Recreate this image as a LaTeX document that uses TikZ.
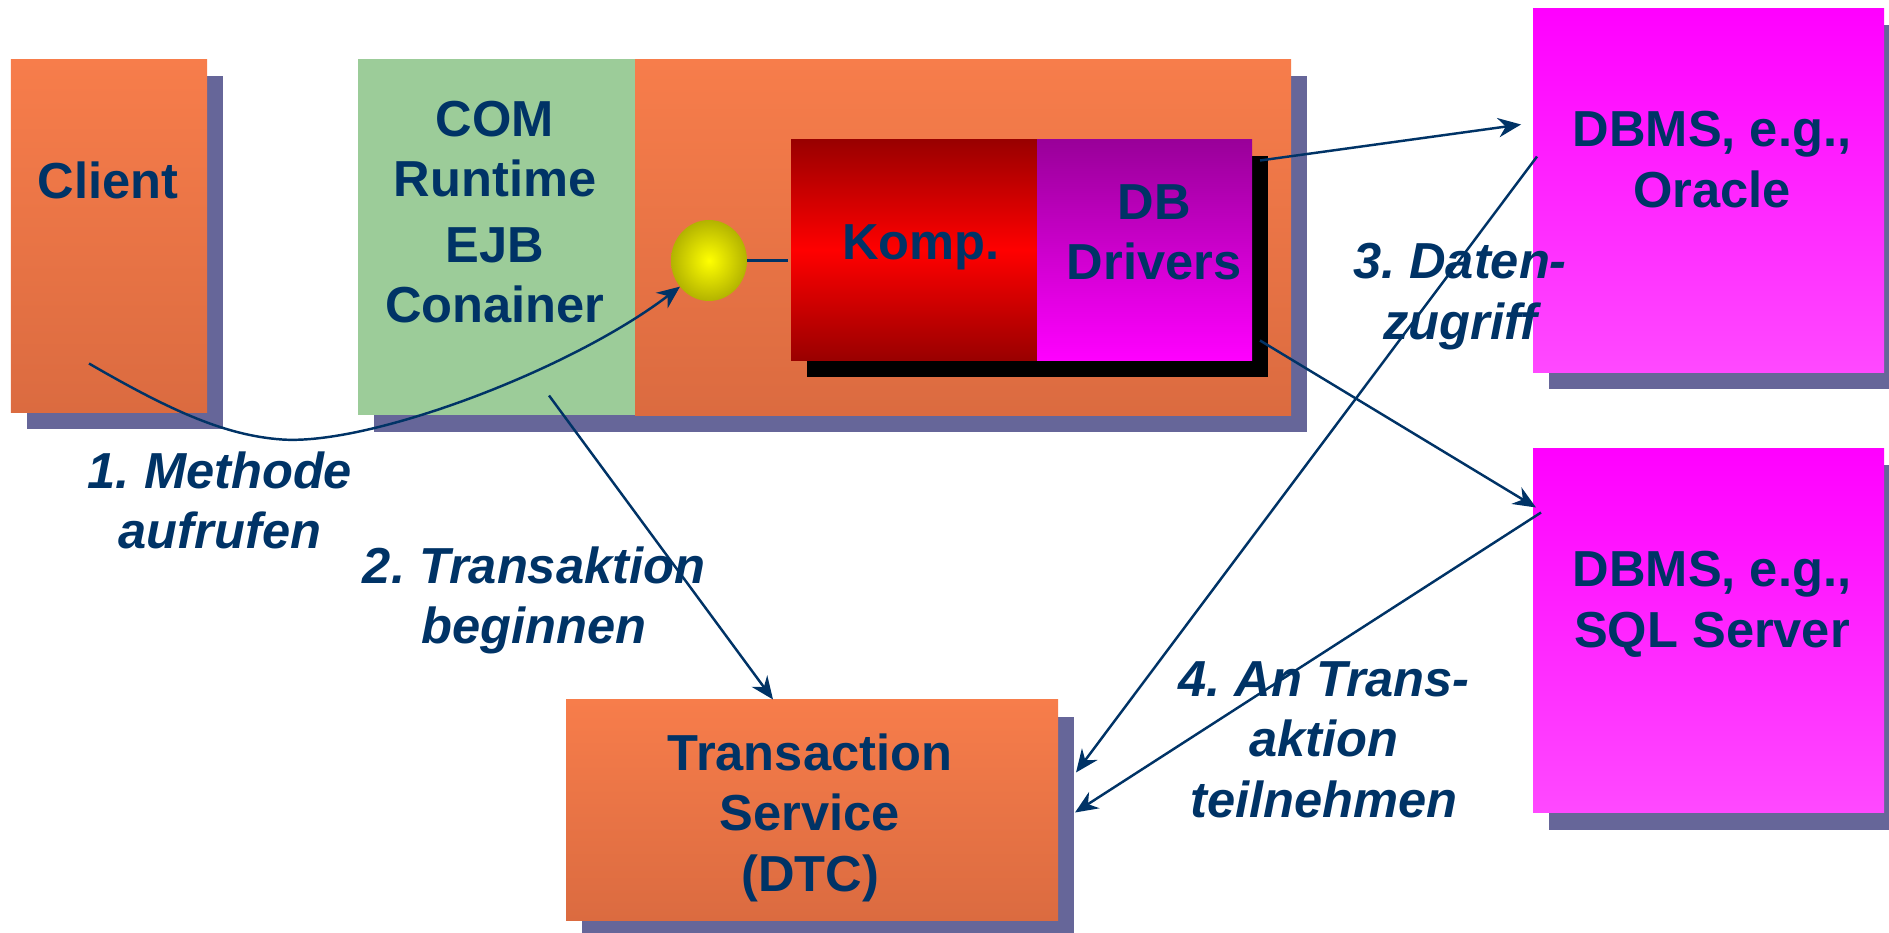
\documentclass[tikz,border=0pt]{standalone}
\usepackage{fontspec}
\setmainfont{Liberation Sans}
\usepackage{tikz}
\usepackage{xcolor}
\usetikzlibrary{shapes.geometric, arrows.meta, positioning, shadows}
\frenchspacing

\definecolor{navy}{HTML}{003366}
\definecolor{shadowblue}{HTML}{666699}
\definecolor{orangetop}{HTML}{F77D4B}
\definecolor{orangebot}{HTML}{DB6B40}
\definecolor{paleGreen}{HTML}{9CCC99}
\definecolor{darkRed}{HTML}{990000}
\definecolor{darkMagenta}{HTML}{990099}
\definecolor{paleMagenta}{HTML}{FF49FF}
\definecolor{darkYellow}{HTML}{B3B300}

\tikzset{
  box/.style={rectangle, outer sep=0pt, inner sep=0pt},
  softshadow/.style={general shadow={fill=shadowblue, shadow xshift=.16cm, shadow yshift=-.17cm}},
  hardshadow/.style={general shadow={fill=black, shadow xshift=.16cm, shadow yshift=-.17cm}},
  orangebox/.style={box, softshadow, top color=orangetop, bottom color=orangebot},
  dbmsbox/.style={box, softshadow, top color=magenta, bottom color=paleMagenta, minimum width=3.51cm, minimum height=3.64cm},
  title/.style={text=navy, align=center, inner sep=0pt, font=\fontsize{14.4}{17.2}\selectfont\bfseries},
  steptext/.style={title, font=\fontsize{14.4}{17.2}\selectfont\bfseries\itshape},
  flow/.style={draw=navy, line width=.7pt, -{Stealth[length=6.5pt, width=5.5pt]}}
}

\begin{document}
\begin{tikzpicture}
\useasboundingbox (0,.005) rectangle (18.89,9.325);

\node[orangebox, minimum width=1.96cm, minimum height=3.53cm] (client) at (1.09, 6.965) {};
\node[box, softshadow, fill=paleGreen, minimum width=2.77cm, minimum height=3.56cm] (container) at (4.965, 6.95) {};
\node[orangebox, minimum width=6.56cm, minimum height=3.56cm, right=0pt of container] (server) {};

\node[box, hardshadow, top color=darkRed, bottom color=darkRed, middle color=red, minimum width=2.46cm, minimum height=2.21cm] (komp) at (9.14, 6.825) {};
\node[box, hardshadow, top color=darkMagenta, bottom color=magenta, minimum width=2.15cm, minimum height=2.21cm, right=0pt of komp] (drivers) {};
\node[ellipse, outer sep=0pt, inner sep=0pt, inner color=yellow, outer color=darkYellow, minimum width=.76cm, minimum height=.81cm] (ball) at (7.09, 6.72) {};

\node[dbmsbox] (oracle) at (17.085, 7.42) {};
\node[dbmsbox] (sqlserver) at (17.085, 3.02) {};
\node[orangebox, minimum width=4.92cm, minimum height=2.21cm] (dtc) at (8.12, 1.225) {};

% Connectors
\draw[flow] ([shift={(-.20,.49)}]client.south) .. controls (1.70, 5.22) and (2.25, 4.97) .. (2.82, 4.93) .. controls (3.70, 4.87) and (5.70, 5.62) .. (ball.222);
\draw[draw=navy, line width=.8pt, shorten >=.03cm] (ball.east) -- (ball.east -| komp.west);
\draw[flow] ([shift={(.525,.20)}]container.south) -- ([xshift=-.39cm]dtc.north);
\draw[flow] ([shift={(.08,-.21)}]drivers.north east) -- ([shift={(-.12,.66)}]oracle.west);
\draw[flow] ([shift={(.04,.34)}]oracle.west) -- ([shift={(.18,.375)}]dtc.east);
\draw[flow] ([shift={(.08,.20)}]drivers.south east) -- ([shift={(.03,1.23)}]sqlserver.west);
\draw[flow] ([shift={(.08,1.18)}]sqlserver.west) -- ([shift={(.17,-.025)}]dtc.east);

% Box texts
\node[title] (clienttext) at (1.08, 7.52) {Client};
\node[title] (containertext) at (4.95, 7.205) {COM\\Runtime\\[.05cm]EJB\\Conainer};
\node[title] (komptext) at (9.21, 6.85) {Komp.};
\node[title] (driverstext) at (11.54, 7.00) {DB\\Drivers};
\node[title] (oracletext) at (17.12, 7.73) {DBMS, e.g.,\\Oracle};
\node[title] (sqlservertext) at (17.12, 3.28) {DBMS, e.g.,\\SQL Server};
\node[title] (dtctext) at (8.10, 1.15) {Transaction\\Service\\(DTC)};

% Step labels
\node[steptext] (stepone) at (2.20, 4.32) {1. Methode\\aufrufen};
\node[steptext] (steptwo) at (5.34, 3.32) {2. Transaktion\\beginnen};
\node[steptext] (stepthree) at (14.60, 6.36) {3. Daten-\\zugriff};
\node[steptext] (stepfour) at (13.24, 1.93) {4. An Trans-\\aktion\\teilnehmen};
\end{tikzpicture}
\end{document}
